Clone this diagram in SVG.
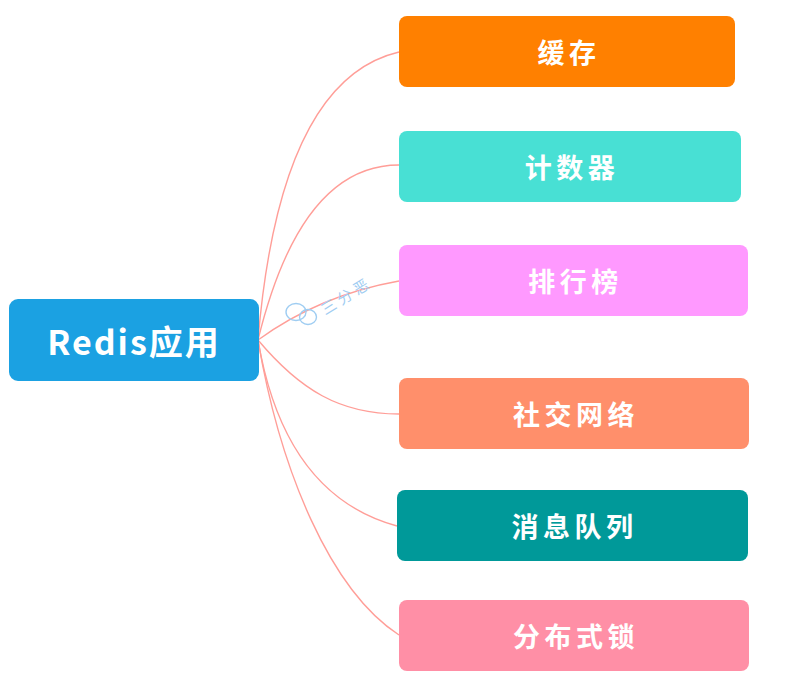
<svg xmlns="http://www.w3.org/2000/svg" width="795" height="688" viewBox="0 0 795 688">
<style>
.lbl{font-family:"Noto Sans CJK SC","Noto Sans",sans-serif;font-weight:700;fill:#ffffff;text-anchor:middle;dominant-baseline:central}
.child{font-size:27px;letter-spacing:4.5px}
.root{font-size:34px;letter-spacing:2px}
.link{fill:none;stroke:#ff9e98;stroke-width:1.4}
.wm{fill:none;stroke:#9fcdf2;stroke-width:1.4}
</style>
<rect width="795" height="688" fill="#ffffff"/>
<g id="connectors">
<path class="link" d="M258,340 Q280,80 399,52"/>
<path class="link" d="M258,340 C280,250 320,165 399,165"/>
<path class="link" d="M258,340 Q320,295 399,281"/>
<path class="link" d="M258,340 C300,390 340,414 399,414"/>
<path class="link" d="M258,340 C275,440 320,505 397,526"/>
<path class="link" d="M258,340 C280,470 330,590 399,635"/>
</g>
<g id="watermark">
<ellipse class="wm" cx="296" cy="312" rx="10" ry="8.5"/>
<ellipse class="wm" cx="308" cy="317" rx="8.5" ry="7.5"/>
<text x="346" y="295" transform="rotate(-32 346 295)" font-family="'Noto Sans CJK SC',sans-serif" font-size="15" fill="#9fcdf2" text-anchor="middle" dominant-baseline="central" letter-spacing="4">三分恶</text>
</g>
<g id="root">
<rect x="9" y="299" width="250" height="82" rx="9" fill="#1ba1e2"/>
<text class="lbl root" x="134" y="340">Redis应用</text>
</g>
<g id="n1">
<rect x="399" y="16" width="336" height="71" rx="8" fill="#ff8000"/>
<text class="lbl child" x="569" y="51.5">缓存</text>
</g>
<g id="n2">
<rect x="399" y="131" width="342" height="71" rx="8" fill="#48e0d4"/>
<text class="lbl child" x="572" y="166.5">计数器</text>
</g>
<g id="n3">
<rect x="399" y="245" width="349" height="71" rx="8" fill="#ff99ff"/>
<text class="lbl child" x="575.5" y="280.5">排行榜</text>
</g>
<g id="n4">
<rect x="399" y="378" width="350" height="71" rx="8" fill="#ff8f6b"/>
<text class="lbl child" x="576" y="413.5">社交网络</text>
</g>
<g id="n5">
<rect x="397" y="490" width="351" height="71" rx="8" fill="#009999"/>
<text class="lbl child" x="574.5" y="525.5">消息队列</text>
</g>
<g id="n6">
<rect x="399" y="600" width="350" height="71" rx="8" fill="#ff8fa6"/>
<text class="lbl child" x="576" y="635.5">分布式锁</text>
</g>
</svg>
